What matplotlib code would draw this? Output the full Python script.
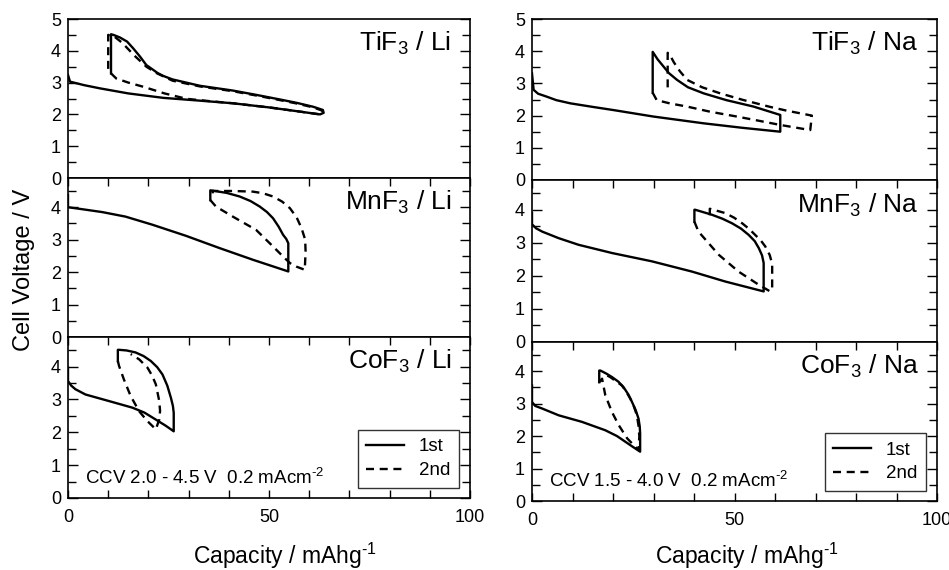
import matplotlib
matplotlib.use("Agg")
import matplotlib.pyplot as plt
from matplotlib.ticker import MultipleLocator

plt.rcParams['font.family'] = ['Liberation Sans', 'DejaVu Sans']
plt.rcParams['mathtext.fontset'] = 'custom'
plt.rcParams['mathtext.rm'] = 'Liberation Sans'
plt.rcParams['mathtext.it'] = 'Liberation Sans'

# ---- data: capacity (mAh/g), voltage (V) ----
# TiF3 / Li
tili_1_x = [0, 0.5, 4, 7.9, 15, 23.7, 32, 41, 50, 57, 62.7, 63.6, 63.4, 61, 57, 53.5, 47, 41, 32.8,
            26, 23.7, 22.3, 21.2, 19.5, 17.9, 16.2, 14.7, 12.9, 11.3, 10.7, 10.7]
tili_1_v = [3.24, 3.03, 2.92, 2.82, 2.66, 2.52, 2.44, 2.35, 2.22, 2.1, 2.0, 2.05, 2.14, 2.24, 2.36,
            2.45, 2.61, 2.75, 2.9, 3.1, 3.21, 3.3, 3.4, 3.55, 3.82, 4.08, 4.29, 4.42, 4.5, 4.52, 3.29]
tili_2_x = [10.7, 12, 15, 18.7, 24, 29.5, 35, 41, 50, 57, 62.7, 63.4, 63.2, 61, 57, 53.5, 47, 41,
            32.8, 26, 24, 22, 19.5, 16.5, 13.5, 11.5, 10, 10]
tili_2_v = [3.29, 3.13, 3.0, 2.87, 2.66, 2.49, 2.42, 2.35, 2.22, 2.1, 2.0, 2.05, 2.12, 2.22, 2.34,
            2.43, 2.59, 2.73, 2.88, 3.06, 3.18, 3.3, 3.5, 3.85, 4.25, 4.45, 4.5, 3.35]

# TiF3 / Na
tina_1_x = [0, 0.4, 1.5, 3.6, 6, 9.5, 15, 20.2, 30, 42.4, 52, 61.3, 61.3, 58, 54.7, 48, 42.4, 38.5,
            35.8, 33.8, 32.5, 31, 29.8, 29.8]
tina_1_v = [3.31, 2.8, 2.68, 2.59, 2.48, 2.38, 2.27, 2.17, 1.97, 1.76, 1.62, 1.5, 2.02, 2.15, 2.28,
            2.48, 2.69, 2.88, 3.11, 3.32, 3.52, 3.75, 3.98, 2.71]
tina_2_x = [29.8, 30.8, 34, 38.3, 44, 50.6, 56, 61.3, 68.7, 69.1, 67.1, 63, 58.8, 52, 46.5, 42, 38.3,
            36.5, 35.0, 33.9, 33.5, 33.5]
tina_2_v = [2.71, 2.48, 2.38, 2.28, 2.12, 1.97, 1.84, 1.71, 1.55, 2.0, 2.05, 2.15, 2.27, 2.49, 2.69,
            2.88, 3.11, 3.38, 3.66, 3.92, 3.95, 2.8]

# MnF3 / Li
mnli_1_x = [0, 0, 4, 8.5, 14.3, 21, 29.3, 37.7, 46, 54.8, 54.8, 54.3, 53.5, 52.4, 51, 49.5, 47.7,
            45.4, 42.7, 39.5, 36, 35.4, 35.4]
mnli_1_v = [4.38, 4.0, 3.93, 3.85, 3.71, 3.46, 3.12, 2.74, 2.38, 2.02, 2.89, 3.02, 3.15, 3.4, 3.66,
            3.85, 4.02, 4.19, 4.33, 4.44, 4.51, 4.52, 4.22]
mnli_2_x = [35.4, 36.8, 41, 46.8, 51, 53.5, 55.2, 56.8, 58.9, 59.1, 59.0, 58.1, 56.9, 55.2, 53.3, 51,
            48.5, 46, 41, 36, 36]
mnli_2_v = [4.22, 4.02, 3.71, 3.3, 2.79, 2.48, 2.28, 2.17, 2.07, 2.63, 3.0, 3.35, 3.68, 3.97, 4.17,
            4.33, 4.43, 4.48, 4.5, 4.5, 4.3]

# MnF3 / Na
mnna_1_x = [0, 0, 1, 2.5, 6.6, 11.5, 19.8, 29.6, 39.5, 47.7, 57.2, 57.2, 56.8, 56, 55, 53.5, 51.6,
            49.4, 47, 44.4, 40.3, 40.1, 40.1]
mnna_1_v = [3.9, 3.56, 3.44, 3.34, 3.14, 2.94, 2.69, 2.44, 2.13, 1.83, 1.53, 2.39, 2.62, 2.84, 3.05,
            3.24, 3.43, 3.59, 3.73, 3.85, 4.0, 4.0, 3.64]
mnna_2_x = [40.1, 41.1, 46.1, 51, 56, 58.8, 59.3, 59.3, 58.7, 57.6, 56.5, 55.1, 53.6, 51.9, 49.9,
            47.7, 43.9, 43.9]
mnna_2_v = [3.64, 3.34, 2.64, 2.13, 1.73, 1.53, 1.6, 2.36, 2.63, 2.89, 3.07, 3.24, 3.42, 3.59, 3.76,
            3.9, 4.03, 3.74]

# CoF3 / Li
coli_1_x = [0, 0, 0.8, 1.85, 4.35, 10.2, 16, 19, 21.8, 24.3, 26.3, 26.3, 26.1, 25.6, 24.7, 23.5,
            22.2, 20.6, 18.8, 16.8, 14.6, 12.7, 12.4, 12.4]
coli_1_v = [3.97, 3.56, 3.42, 3.31, 3.15, 2.95, 2.75, 2.6, 2.39, 2.2, 2.03, 2.59, 2.8, 3.05, 3.42,
            3.76, 3.98, 4.17, 4.32, 4.43, 4.49, 4.51, 4.51, 4.17]
coli_2_x = [12.4, 12.7, 13.9, 15.6, 17.7, 19.75, 21.85, 22.7, 22.9, 22.7, 21.85, 20.9, 19.75, 17.7,
            15.6]
coli_2_v = [4.17, 4.02, 3.61, 3.1, 2.64, 2.34, 2.09, 2.39, 2.65, 2.95, 3.46, 3.73, 3.97, 4.22, 4.38]

# CoF3 / Na
cona_1_x = [0, 0, 0.8, 2.5, 6.6, 12.3, 18.1, 21, 23, 25, 26.7, 26.7, 26.6, 26.3, 25.6, 24.7, 23.8,
            22.6, 21.3, 19.75, 18.3, 16.9, 16.6, 16.6]
cona_1_v = [3.56, 3.05, 2.93, 2.85, 2.64, 2.44, 2.18, 2.0, 1.83, 1.66, 1.52, 2.08, 2.3, 2.54, 2.8,
            3.05, 3.28, 3.51, 3.68, 3.82, 3.93, 4.02, 4.02, 3.66]
cona_2_x = [16.6, 17.3, 18.1, 19.75, 21.4, 23.5, 26.3, 26.5, 26.3, 25.9, 25.2, 24.3, 23.3, 22.2, 19.3,
            17.7]
cona_2_v = [3.66, 3.77, 3.26, 2.74, 2.34, 1.93, 1.57, 1.99, 2.32, 2.64, 2.9, 3.15, 3.36, 3.56, 3.82,
            3.92]

left_labels = ["TiF$_3$ / Li", "MnF$_3$ / Li", "CoF$_3$ / Li"]
right_labels = ["TiF$_3$ / Na", "MnF$_3$ / Na", "CoF$_3$ / Na"]
left_data = [(tili_1_x, tili_1_v, tili_2_x, tili_2_v),
             (mnli_1_x, mnli_1_v, mnli_2_x, mnli_2_v),
             (coli_1_x, coli_1_v, coli_2_x, coli_2_v)]
right_data = [(tina_1_x, tina_1_v, tina_2_x, tina_2_v),
              (mnna_1_x, mnna_1_v, mnna_2_x, mnna_2_v),
              (cona_1_x, cona_1_v, cona_2_x, cona_2_v)]
ccv_left = "CCV 2.0 - 4.5 V  0.2 mAcm$^{\\text{-2}}$"
ccv_right = "CCV 1.5 - 4.0 V  0.2 mAcm$^{\\text{-2}}$"
xlabel = "Capacity / mAhg$^{\\text{-1}}$"

W, H = 949, 570
fig = plt.figure(figsize=(W / 100, H / 100), dpi=100)

dash = (0, (3.4, 2.4))


def column(x0, x1, edges, labels, data, ccv):
    axes = []
    for i in range(3):
        top, bot = edges[i], edges[i + 1]
        ax = fig.add_axes([x0 / W, 1 - bot / H, (x1 - x0) / W, (bot - top) / H])
        x1d, v1d, x2d, v2d = data[i]
        ax.plot(x1d, v1d, color='black', lw=1.7, label='1st')
        ax.plot(x2d, v2d, color='black', lw=1.7, ls=dash, label='2nd')
        ax.set_xlim(0, 100)
        if i == 0:
            ax.set_ylim(0, 5)
            ax.set_yticks([0, 1, 2, 3, 4, 5])
        else:
            ax.set_ylim(0, 4.9)
            ax.set_yticks([0, 1, 2, 3, 4])
        ax.yaxis.set_minor_locator(MultipleLocator(0.5))
        ax.set_xticks(range(0, 101, 10))
        ax.set_xticklabels(['0', '', '', '', '', '50', '', '', '', '', '100'])
        ax.tick_params(axis='y', which='both', direction='in', left=True, right=True,
                       labelsize=13, width=1.0, pad=5)
        ax.tick_params(axis='y', which='major', length=7)
        ax.tick_params(axis='y', which='minor', length=6)
        if i == 2:
            ax.tick_params(axis='x', direction='in', top=True, bottom=True, length=6,
                           width=1.0, labelsize=13, pad=8)
        elif i == 1:
            ax.tick_params(axis='x', direction='in', top=True, bottom=False, length=6,
                           width=1.0, labelbottom=False)
        else:
            ax.tick_params(axis='x', top=False, bottom=False, labelbottom=False)
        for s in ax.spines.values():
            s.set_linewidth(1.2)
        ax.text(0.954, 0.80, labels[i], transform=ax.transAxes, ha='right',
                va='baseline', fontsize=19)
        axes.append(ax)
    ax = axes[2]
    ax.text(0.042, 0.09, ccv, transform=ax.transAxes, ha='left', va='baseline', fontsize=13.5)
    leg = ax.legend(loc='lower right', bbox_to_anchor=(0.972, 0.065), fontsize=13.5,
                    frameon=True, fancybox=False, edgecolor='black', handlelength=2.0,
                    borderpad=0.45, labelspacing=0.35, borderaxespad=0)
    leg.get_frame().set_linewidth(1.0)
    return axes


column(68, 470, [19, 178, 337, 498], left_labels, left_data, ccv_left)
column(532, 937, [19, 180, 342, 501], right_labels, right_data, ccv_right)

fig.text(24 / W, 1 - 270 / H, "Cell Voltage / V", rotation=90, ha='center', va='center', fontsize=17)
fig.text(285 / W, 1 - 556 / H, xlabel, ha='center', va='center', fontsize=16.5)
fig.text(747 / W, 1 - 556 / H, xlabel, ha='center', va='center', fontsize=16.5)

fig.savefig("out.png", dpi=100)
